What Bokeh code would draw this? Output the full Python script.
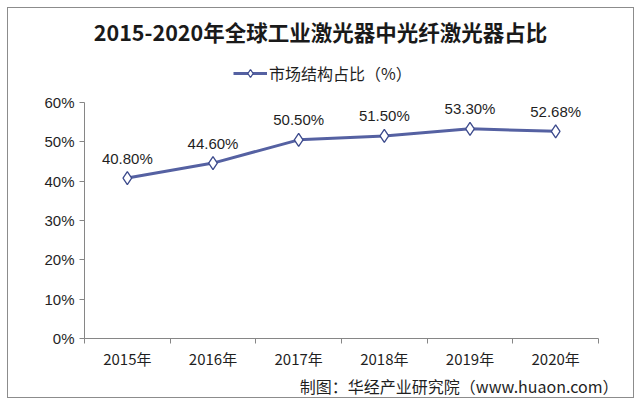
from bokeh.plotting import figure
from bokeh.models import (FixedTicker, Range1d, Legend, LegendItem, Title, Label,
                          ColumnDataSource, LabelSet, PrintfTickFormatter)
from bokeh.core.properties import value
from bokeh.embed import file_html
from bokeh.resources import INLINE

years = ["2015年", "2016年", "2017年", "2018年", "2019年", "2020年"]
shares = [40.8, 44.6, 50.5, 51.5, 53.3, 52.68]
share_labels = ["40.80%", "44.60%", "50.50%", "51.50%", "53.30%", "52.68%"]
y_ticks = [0, 10, 20, 30, 40, 50, 60]
chart_title = "2015-2020年全球工业激光器中光纤激光器占比"
series_name = "市场结构占比（%）"
source_note = "制图：华经产业研究院（www.huaon.com）"

xs = [i + 0.5 for i in range(len(years))]
src = ColumnDataSource(dict(x=xs, y=shares, lab=share_labels))

FONT = "Liberation Sans"
CJK = "Noto Sans CJK SC"

# frame spans from the top of the box down to the x axis; the y axis only covers 0-60%
FRAME_H = 330
AXIS_H = 236
y_top = y_ticks[-1] * FRAME_H / AXIS_H

p = figure(frame_width=514, frame_height=FRAME_H, x_range=Range1d(0, len(years)),
           y_range=Range1d(0, y_top), output_backend="svg", toolbar_location=None,
           min_border_left=76, min_border_right=35, min_border_bottom=50,
           min_border_top=0)
p.margin = (7, 0, 0, 7)
p.styles = {"border": "1px solid #8c8c8c"}
p.outline_line_color = None
p.grid.visible = False
p.background_fill_color = "white"

line = p.line("x", "y", source=src, line_color="#5561a2", line_width=3)
pts = p.scatter("x", "y", source=src, marker="diamond", size=13,
                fill_color="white", line_color="#3c4a8c", line_width=1.3)

labels = LabelSet(x="x", y="y", text="lab", source=src, text_align="center",
                  text_baseline="middle", y_offset=20, text_font_size="15px",
                  text_font=value(FONT), text_color="#1f1f1f")
p.add_layout(labels)

# x axis: labels at category centres, ticks at category boundaries
xa = p.xaxis[0]
xa.ticker = FixedTicker(ticks=xs, minor_ticks=list(range(len(years) + 1)))
xa.major_label_overrides = {x: y for x, y in zip(xs, years)}
xa.major_tick_line_color = None
xa.minor_tick_line_color = "#868686"
xa.minor_tick_out = 5
xa.minor_tick_in = 0
xa.axis_line_color = "#868686"
xa.major_label_text_font = CJK
xa.major_label_text_font_size = "15px"
xa.major_label_text_color = "#1f1f1f"
xa.major_label_standoff = 3

ya = p.yaxis[0]
ya.ticker = FixedTicker(ticks=y_ticks)
ya.bounds = (y_ticks[0], y_ticks[-1])
ya.formatter = PrintfTickFormatter(format="%d%%")
ya.axis_line_color = "#868686"
ya.major_tick_line_color = "#868686"
ya.major_tick_out = 5
ya.major_tick_in = 0
ya.minor_tick_line_color = None
ya.major_label_text_font = FONT
ya.major_label_text_font_size = "15px"
ya.major_label_text_color = "#1f1f1f"
ya.major_label_standoff = 5

legend = Legend(items=[LegendItem(label=series_name, renderers=[line, pts])],
                orientation="horizontal", location=(149, 253),
                label_text_font=CJK, label_text_font_size="16px",
                label_text_color="#1f1f1f", border_line_color=None,
                background_fill_alpha=0, label_standoff=2,
                glyph_width=34, margin=0, padding=0)
p.add_layout(legend)

title = Label(x=len(years) / 2 - 0.245, y=y_top * (307 / FRAME_H), text=chart_title,
              text_align="center", text_baseline="middle",
              text_font=CJK, text_font_size="21.5px", text_font_style="bold",
              text_color="#1a1a1a")
p.add_layout(title)

foot = Title(text=source_note, align="right",
             text_font=CJK, text_font_size="16px", text_font_style="normal",
             text_color="#1f1f1f", offset=-20, standoff=0)
p.add_layout(foot, "below")

open("out.html", "w").write(file_html(p, INLINE))
